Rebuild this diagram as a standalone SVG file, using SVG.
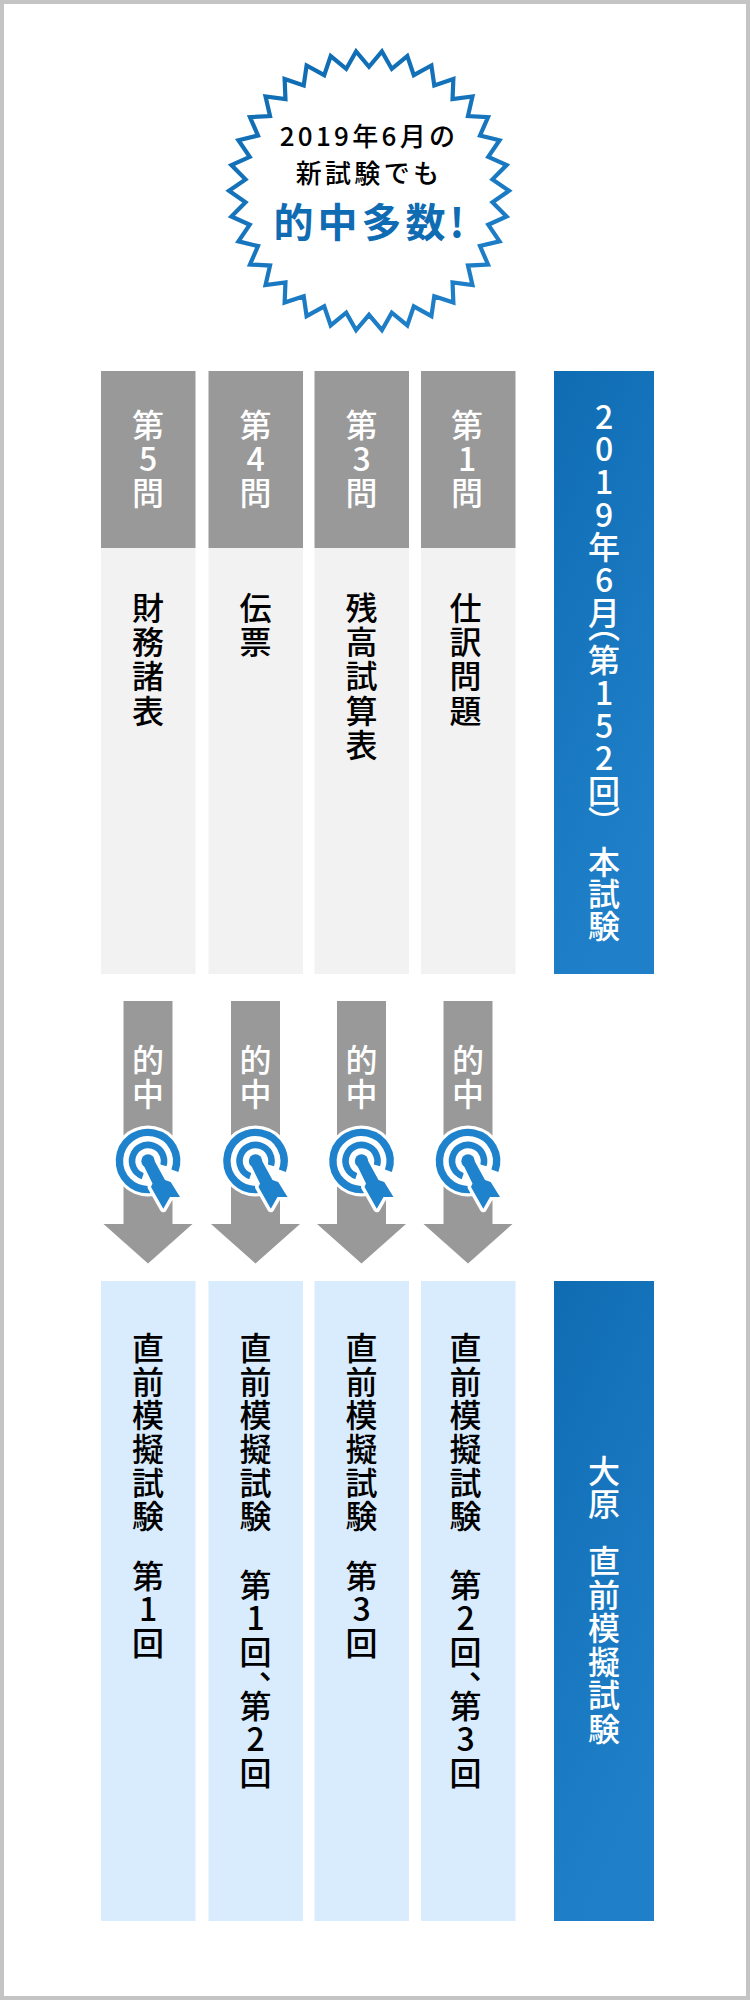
<svg xmlns="http://www.w3.org/2000/svg" width="750" height="2000" viewBox="0 0 750 2000">
<style>
text{font-family:"Noto Sans CJK JP","Noto Sans",sans-serif}
.v{writing-mode:vertical-rl;text-orientation:upright;font-size:32px;font-weight:500}
.s{letter-spacing:2.3px}.m{letter-spacing:1.6px}.t{letter-spacing:.7px}.o{letter-spacing:1.500px}
.w{fill:#fff}.k{fill:#000}
.h{fill:#999}.b{fill:#f2f2f2}.l{fill:#d8ecfe}
.c{fill:none;stroke:#1e82cc}
</style>
<defs>
<linearGradient id="g" x1="0" y1="0" x2="0.35" y2="1"><stop offset="0" stop-color="#0f6cb3"/><stop offset="1" stop-color="#1f80c9"/></linearGradient>
<linearGradient id="st" gradientUnits="userSpaceOnUse" x1="-70" y1="-140" x2="70" y2="140"><stop offset="0" stop-color="#0f6cb3"/><stop offset="1" stop-color="#1f80c9"/></linearGradient>
<path id="cur" d="M5.500 -2L17 19L22.700 21L32 36L22 36L15.300 47.700L3 26L4.500 22.500L-5.500 2Z"/>
<g id="ic">
<circle r="35.500" fill="#fff"/>
<path class="c" stroke-width="7.400" d="M26.900 9.800A28.600 28.600 0 1 0 2.500 28.500"/>
<path class="c" stroke-width="6.600" d="M15.400 4.400A16 16 0 1 0 -5.200 15.100"/>
<use href="#cur" fill="#fff" stroke="#fff" stroke-width="7" stroke-linejoin="round"/>
<circle r="6.700" fill="#1e82cc"/>
<use href="#cur" fill="#1e82cc"/>
</g>
<g id="ar">
<path d="M-24.500 1001H24.500V1224H44.500L0 1263.500L-44.500 1224H-24.500Z" fill="#999"/>
<text class="v w s" y="1044">的中</text>
<use href="#ic" y="1161"/>
</g>
</defs>
<rect width="750" height="2000" fill="#c4c4c4"/>
<rect x="4" y="4" width="742" height="1992" fill="#fff"/>
<g id="star">
<path transform="translate(369 190.800)" fill="#fff" stroke="url(#st)" stroke-width="4.200" d="M140 0L123.470 -11.440L137.620 -25.730L119.270 -33.930L130.550 -50.570L111 -55.270L119.030 -73.700L98.960 -74.730L103.460 -94.320L83.540 -91.640L84.370 -111.730L65.280 -105.430L62.400 -125.320L44.790 -115.620L38.310 -134.660L22.790 -121.890L12.920 -139.400L0 -124L-12.920 -139.400L-22.790 -121.890L-38.310 -134.660L-44.790 -115.620L-62.400 -125.320L-65.280 -105.430L-84.370 -111.730L-83.540 -91.640L-103.460 -94.320L-98.960 -74.730L-119.030 -73.700L-111 -55.270L-130.550 -50.570L-119.270 -33.930L-137.620 -25.730L-123.470 -11.440L-140 0L-123.470 11.440L-137.620 25.730L-119.270 33.930L-130.550 50.570L-111 55.270L-119.030 73.700L-98.960 74.730L-103.460 94.320L-83.540 91.640L-84.370 111.730L-65.280 105.430L-62.400 125.320L-44.790 115.620L-38.310 134.660L-22.790 121.890L-12.920 139.400L0 124L12.920 139.400L22.790 121.890L38.310 134.660L44.790 115.620L62.400 125.320L65.280 105.430L84.370 111.730L83.540 91.640L103.460 94.320L98.960 74.730L119.030 73.700L111 55.270L130.550 50.570L119.270 33.930L137.620 25.730L123.470 11.440Z"/>
<text x="369" y="146" text-anchor="middle" font-size="26" font-weight="500" letter-spacing="3.300" fill="#000">2019年6月の</text>
<text x="369" y="183" text-anchor="middle" font-size="26" font-weight="500" letter-spacing="3.300" fill="#000">新試験でも</text>
<text x="371" y="236.500" text-anchor="middle" font-size="40" font-weight="700" letter-spacing="4" fill="#0f6cb3">的中多数!</text>
</g>
<g id="q5"><rect class="h" x="101" y="371" width="94.500" height="177"/><rect class="b" x="101" y="548" width="94.500" height="426"/><text class="v w s" x="148" y="408.500">第5問</text><text class="v k s" x="148" y="591.500">財務諸表</text></g>
<g id="q4"><rect class="h" x="208.500" y="371" width="94.500" height="177"/><rect class="b" x="208.500" y="548" width="94.500" height="426"/><text class="v w s" x="255.500" y="408.500">第4問</text><text class="v k s" x="255.500" y="591.500">伝票</text></g>
<g id="q3"><rect class="h" x="314.500" y="371" width="94.500" height="177"/><rect class="b" x="314.500" y="548" width="94.500" height="426"/><text class="v w s" x="361.500" y="408.500">第3問</text><text class="v k s" x="361.500" y="591.500">残高試算表</text></g>
<g id="q1"><rect class="h" x="421" y="371" width="94.500" height="177"/><rect class="b" x="421" y="548" width="94.500" height="426"/><text class="v w s" x="467" y="408.500">第1問</text><text class="v k s" x="465.500" y="591.500">仕訳問題</text></g>
<g id="exam"><rect x="554" y="371" width="100" height="603" fill="url(#g)"/>
<text class="v w t" x="604" y="400.500">2019年6月</text><text class="v w" x="604" y="610">（</text><text class="v w t" x="604" y="644">第152回</text><text class="v w" x="604" y="806">）</text><text class="v w" x="604" y="846">本試験</text></g>
<g id="connectors">
<use href="#ar" x="148"/><use href="#ar" x="255.500"/><use href="#ar" x="361.500"/><use href="#ar" x="468"/>
</g>
<g id="m1"><rect class="l" x="101" y="1281" width="94.500" height="640"/><text class="v k m" x="148" y="1332">直前模擬試験</text><text class="v k m" x="148" y="1559.500">第1回</text></g>
<g id="m2"><rect class="l" x="208.500" y="1281" width="94.500" height="640"/><text class="v k m" x="255.500" y="1332">直前模擬試験</text><text class="v k m" x="255.500" y="1568.500">第1回</text><text class="v k" x="255.500" y="1671">、</text><text class="v k m" x="255.500" y="1689.500">第2回</text></g>
<g id="m3"><rect class="l" x="314.500" y="1281" width="94.500" height="640"/><text class="v k m" x="361.500" y="1332">直前模擬試験</text><text class="v k m" x="361.500" y="1559.500">第3回</text></g>
<g id="m4"><rect class="l" x="421" y="1281" width="94.500" height="640"/><text class="v k m" x="465.500" y="1332">直前模擬試験</text><text class="v k m" x="465.500" y="1568.500">第2回</text><text class="v k" x="465.500" y="1671">、</text><text class="v k m" x="465.500" y="1689.500">第3回</text></g>
<g id="osaka"><rect x="554" y="1281" width="100" height="640" fill="url(#g)"/><text class="v w o" x="604" y="1454.500">大原</text><text class="v w o" x="604" y="1545">直前模擬試験</text></g>
</svg>
